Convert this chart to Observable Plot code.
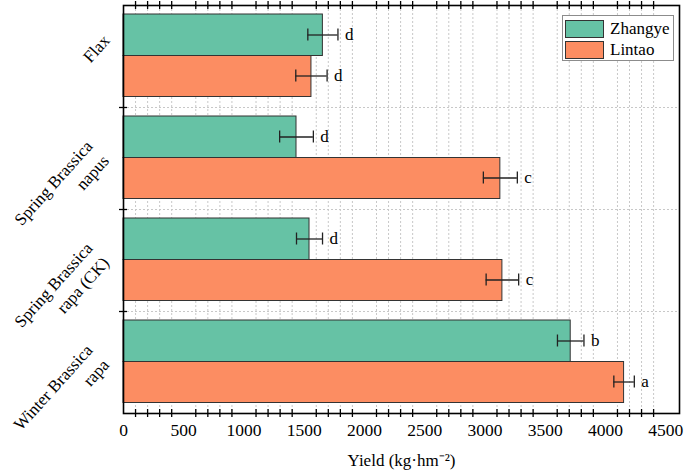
<!DOCTYPE html>
<html>
<head>
<meta charset="utf-8">
<script src="https://cdn.jsdelivr.net/npm/d3@7"></script>
<script src="https://cdn.jsdelivr.net/npm/@observablehq/plot@0.6"></script>
<style>
  body { margin: 0; background: #fff; }
  #wrap { position: relative; width: 685px; height: 473px; font-family: 'Liberation Serif', 'Times New Roman', serif; }
  #legend { position: absolute; left: 562px; top: 15px; width: 112px; height: 46px; background: #fff; border: 1px solid #8c8c8c; box-sizing: border-box; }
  .row { position: absolute; left: 2px; height: 19px; display: flex; align-items: center; }
  .sw { width: 39px; height: 18px; border: 1px solid #333; box-sizing: border-box; margin-right: 6px; }
  .lab { font-size: 17px; color: #000; line-height: 18px; }
</style>
</head>
<body>
<div id="wrap"></div>
<script>
// ---- data ----
const crops = ["Flax", "Spring Brassica napus", "Spring Brassica rapa (CK)", "Winter Brassica rapa"];
const cropLabels = ["Flax", "Spring Brassica\nnapus", "Spring Brassica\nrapa (CK)", "Winter Brassica\nrapa"];
const sites = ["Zhangye", "Lintao"];
const zhangye = [1655, 1436, 1544, 3712];
const zhangyeErr = [125, 140, 108, 110];
const zhangyeLetters = ["d", "d", "d", "b"];
const lintao = [1560, 3128, 3145, 4155];
const lintaoErr = [130, 141, 135, 85];
const lintaoLetters = ["d", "c", "c", "a"];
const majorTicks = [0, 500, 1000, 1500, 2000, 2500, 3000, 3500, 4000, 4500];
const minorTicks = d3.range(100, 4600, 100).filter(v => v % 500 !== 0);
const xMax = 4615;
const colors = ["#66c2a5", "#fc8d62"];

const zRows = crops.map((c, i) => ({crop: c, v: zhangye[i], e: zhangyeErr[i], t: zhangyeLetters[i]}));
const lRows = crops.map((c, i) => ({crop: c, v: lintao[i], e: lintaoErr[i], t: lintaoLetters[i]}));
const labelRows = crops.map((c, i) => ({crop: c, label: cropLabels[i]}));

const H = 408; // frame height
const band = H / crops.length;
const font = "'Liberation Serif', 'Times New Roman', serif";

function errMarks(rows, dy, capTop, capBottom) {
  return [
    Plot.ruleY(rows, {y: "crop", x1: d => d.v - d.e, x2: d => d.v + d.e, dy, stroke: "#222", strokeWidth: 1.3}),
    Plot.tickX(rows, {y: "crop", x: d => d.v - d.e, insetTop: capTop, insetBottom: capBottom, stroke: "#222", strokeWidth: 1.3}),
    Plot.tickX(rows, {y: "crop", x: d => d.v + d.e, insetTop: capTop, insetBottom: capBottom, stroke: "#222", strokeWidth: 1.3}),
    Plot.text(rows, {y: "crop", x: d => d.v + d.e, text: "t", dx: 7, dy, textAnchor: "start", fontSize: 17, fontFamily: font, fill: "#000"})
  ];
}

const labelStyle = {y: "crop", text: "label", frameAnchor: "left", rotate: -48, textAnchor: "end", lineAnchor: "middle",
  fontSize: 17, fontFamily: font, fill: "#000", lineHeight: 1.3};

const chart = Plot.plot({
  width: 685,
  height: 473,
  marginLeft: 123,
  marginRight: 6,
  marginTop: 5,
  marginBottom: 60,
  style: {fontFamily: font, fontSize: "17.5px", color: "#000", background: "#fff"},
  x: {domain: [0, xMax], ticks: majorTicks, tickSize: 0, tickPadding: 10, label: null, tickFormat: d => String(d)},
  y: {domain: crops, padding: 0, axis: null},
  marks: [
    // dotted grid
    Plot.ruleX(minorTicks, {stroke: "#c8c8c8", strokeDasharray: "2,2", strokeWidth: 1}),
    Plot.ruleY(crops.slice(1), {y: d => d, dy: -band / 2, stroke: "#c8c8c8", strokeDasharray: "2,2", strokeWidth: 1}),
    // bars
    Plot.barX(zRows, {y: "crop", x: "v", fill: colors[0], stroke: "#333", strokeWidth: 1, insetTop: 9, insetBottom: 51.5}),
    Plot.barX(lRows, {y: "crop", x: "v", fill: colors[1], stroke: "#333", strokeWidth: 1, insetTop: 50.5, insetBottom: 10.5}),
    ...errMarks(zRows, -21.5, 23.5, 66.5),
    ...errMarks(lRows, 19.5, 64.5, 25.5),
    // frame and minor ticks
    Plot.frame({stroke: "#000", strokeWidth: 1.6}),
    Plot.ruleX(minorTicks, {insetTop: H - 4, insetBottom: -4, stroke: "#000", strokeWidth: 1.3}),
    Plot.ruleX(minorTicks, {insetTop: -4, insetBottom: H - 4, stroke: "#000", strokeWidth: 1.3}),
    Plot.ruleY(crops.slice(1), {y: d => d, dy: -band / 2, x1: 0, x2: 0, insetLeft: -4, insetRight: -4, stroke: "#000", strokeWidth: 1.3}),
    // y labels (single-line and two-line labels are anchored slightly differently)
    Plot.text(labelRows.filter(d => !d.label.includes("\n")), {...labelStyle, dx: -18, dy: -20}),
    Plot.text(labelRows.filter(d => d.label.includes("\n")), {...labelStyle, dx: -27, dy: -9}),
    // x title
    Plot.text(["Yield (kg·hm⁻²)"], {frameAnchor: "bottom", dy: 47, fontSize: 17, fontFamily: font, fill: "#000", lineAnchor: "middle"})
  ]
});

d3.select(chart).selectAll("text").attr("font-family", font).style("font-family", font);

const wrap = document.getElementById("wrap");
wrap.appendChild(chart);
const legend = document.createElement("div");
legend.id = "legend";
legend.innerHTML = sites.map((s, i) =>
  `<div class="row" style="top:${3 + i * 21.5}px"><div class="sw" style="background:${colors[i]}"></div><span class="lab">${s}</span></div>`
).join("");
wrap.appendChild(legend);
</script>
</body>
</html>
